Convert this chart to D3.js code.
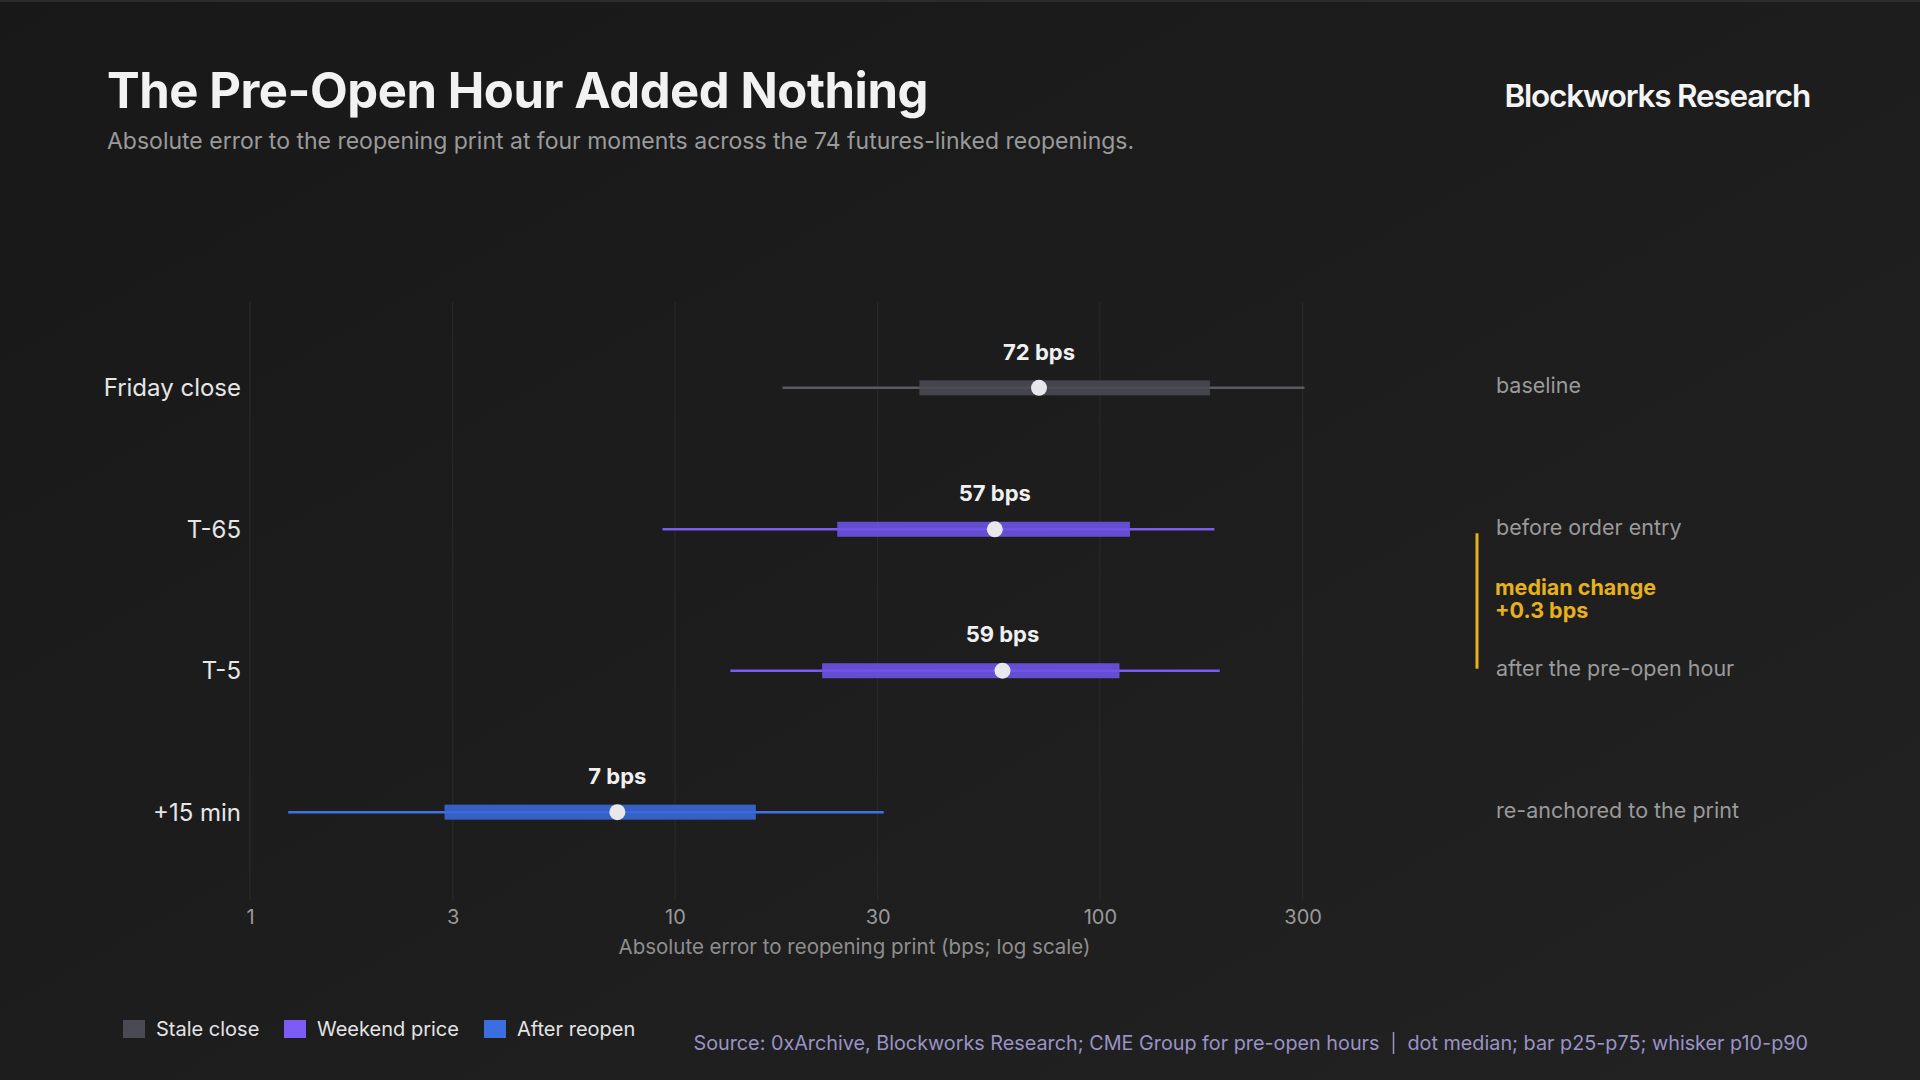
<!DOCTYPE html>
<html>
<head>
<meta charset="utf-8">
<script src="https://cdn.jsdelivr.net/npm/d3@7"></script>
<style>
	html, body { margin: 0; padding: 0; background: #1a1a1a; }
	svg { display: block; font-family: Inter, 'Noto Sans', sans-serif; }
</style>
</head>
<body>
<div id="chart"></div>
<script>
// data
const categories = ['Friday close', 'T-65', 'T-5', '+15 min'];
const groups = ['stale', 'weekend', 'weekend', 'after'];
const p10 = [17.9, 9.35, 13.5, 1.23];
const p25 = [37.6, 24.1, 22.2, 2.87];
const median = [71.9, 56.6, 59.0, 7.32];
const p75 = [181.5, 117.7, 111.2, 15.5];
const p90 = [303, 186, 191.5, 31.0];
const notes = ['baseline', 'before order entry', 'after the pre-open hour', 're-anchored to the print'];
const tickValues = [1, 3, 10, 30, 100, 300];

const legendKeys = ['stale', 'weekend', 'after'];
const legendLabels = ['Stale close', 'Weekend price', 'After reopen'];

// colors
const barColor = { stale: '#4a4a53', weekend: '#6d53e6', after: '#3a68d9' };
const whiskerColor = { stale: '#5a5a60', weekend: '#7a5cf2', after: '#4070e2' };
const swatchColor = { stale: '#4a4a55', weekend: '#7b5cf6', after: '#3d6ee0' };
const gold = '#e6b11c';

const width = 1920;
const height = 1080;

const rows = categories.map((c, i) => ({
	key: c,
	group: groups[i],
	p10: p10[i],
	p25: p25[i],
	median: median[i],
	p75: p75[i],
	p90: p90[i],
	note: notes[i]
}));

const $svg = d3.select('#chart').append('svg')
	.attr('width', width)
	.attr('height', height);

// background
const defs = $svg.append('defs');
const grad = defs.append('linearGradient')
	.attr('id', 'bg')
	.attr('x1', 0).attr('y1', 0).attr('x2', 1).attr('y2', 1);
grad.append('stop').attr('offset', '0%').attr('stop-color', '#181818');
grad.append('stop').attr('offset', '100%').attr('stop-color', '#222222');

$svg.append('rect').attr('width', width).attr('height', height).attr('fill', 'url(#bg)');
$svg.append('rect').attr('width', width).attr('height', 2).attr('fill', '#2c2c2c');

// header
$svg.append('text')
	.attr('x', 107).attr('y', 108)
	.attr('fill', '#f2f2f2')
	.style('font-size', '49px')
	.style('font-weight', 700)
	.style('letter-spacing', '-0.45px')
	.text('The Pre-Open Hour Added Nothing');

$svg.append('text')
	.attr('x', 107).attr('y', 149)
	.attr('fill', '#9a9a9a')
	.style('font-size', '23px')
	.text('Absolute error to the reopening print at four moments across the 74 futures-linked reopenings.');

$svg.append('text')
	.attr('x', 1810).attr('y', 107)
	.attr('text-anchor', 'end')
	.attr('fill', '#f4f4f4')
	.style('font-size', '31.5px')
	.style('font-weight', 600)
	.style('letter-spacing', '-1.2px')
	.text('Blockworks Research');

// scales
const x = d3.scaleLog().domain([1, 700]).range([250, 1459]);
const y = d3.scalePoint().domain(categories).range([303, 897]).padding(0.6);

const $g = $svg.append('g');

// grid
$g.append('g').attr('class', 'g-grid')
	.selectAll('line')
	.data(tickValues)
	.join('line')
	.attr('x1', d => x(d)).attr('x2', d => x(d))
	.attr('y1', 302).attr('y2', 900)
	.attr('stroke', '#2c2c2c')
	.attr('stroke-width', 1);

// x axis
const xAxis = d3.axisBottom(x)
	.tickValues(tickValues)
	.tickFormat(d3.format('d'))
	.tickSize(0)
	.tickPadding(0);

const $xAxis = $g.append('g')
	.attr('transform', 'translate(0, 910)')
	.call(xAxis);
$xAxis.select('.domain').remove();
$xAxis.selectAll('text')
	.attr('dy', '0.35em')
	.attr('y', 7)
	.attr('fill', '#9a9a9a')
	.style('font-family', 'Inter, sans-serif')
	.style('font-size', '20px');

$g.append('text')
	.attr('x', (x.range()[0] + x.range()[1]) / 2)
	.attr('y', 947)
	.attr('dy', '0.35em')
	.attr('text-anchor', 'middle')
	.attr('fill', '#8e8e8e')
	.style('font-size', '20.5px')
	.text('Absolute error to reopening print (bps; log scale)');

// y labels
$g.append('g')
	.selectAll('text')
	.data(rows)
	.join('text')
	.attr('x', 241)
	.attr('y', d => y(d.key))
	.attr('dy', '0.35em')
	.attr('text-anchor', 'end')
	.attr('fill', '#e6e6e6')
	.style('font-size', '24px')
	.text(d => d.key);

// marks
const $row = $g.append('g').attr('class', 'g-rows')
	.selectAll('g')
	.data(rows)
	.join('g')
	.attr('transform', d => `translate(0, ${y(d.key)})`);

$row.append('line')
	.attr('x1', d => x(d.p10))
	.attr('x2', d => x(d.p90))
	.attr('stroke', d => whiskerColor[d.group])
	.attr('stroke-width', 2.5);

$row.append('rect')
	.attr('x', d => x(d.p25))
	.attr('y', -7.5)
	.attr('width', d => x(d.p75) - x(d.p25))
	.attr('height', 15)
	.attr('fill', d => barColor[d.group])
	.attr('fill-opacity', 0.9);

$row.append('circle')
	.attr('cx', d => x(d.median))
	.attr('r', 8)
	.attr('fill', '#e8e8ec');

$row.append('text')
	.attr('x', d => x(d.median))
	.attr('y', -36)
	.attr('dy', '0.35em')
	.attr('text-anchor', 'middle')
	.attr('fill', '#f0f0f0')
	.style('font-size', '22px')
	.style('font-weight', 700)
	.text(d => `${Math.round(d.median)} bps`);

// right notes
$g.append('g')
	.selectAll('text')
	.data(rows)
	.join('text')
	.attr('x', 1496)
	.attr('y', d => y(d.key) - 2)
	.attr('dy', '0.35em')
	.attr('fill', '#9a9a9a')
	.style('font-size', '21.5px')
	.text(d => d.note);

// median change callout
const yA = y('T-65');
const yB = y('T-5');
$g.append('line')
	.attr('x1', 1477).attr('x2', 1477)
	.attr('y1', yA + 4).attr('y2', yB - 2)
	.attr('stroke', gold)
	.attr('stroke-width', 3);

const $call = $g.append('text')
	.attr('fill', gold)
	.style('font-size', '21.5px')
	.style('font-weight', 700);
$call.append('tspan').attr('x', 1495).attr('y', 587).attr('dy', '0.35em').text('median change');
$call.append('tspan').attr('x', 1495).attr('y', 610).attr('dy', '0.35em').text('+0.3 bps');

// legend
const legendX = [123, 284, 484];
const $legend = $svg.append('g')
	.selectAll('g')
	.data(legendKeys)
	.join('g')
	.attr('transform', (d, i) => `translate(${legendX[i]}, 1029)`);

$legend.append('rect')
	.attr('y', -9)
	.attr('width', 22)
	.attr('height', 18)
	.attr('fill', d => swatchColor[d]);

$legend.append('text')
	.attr('x', 33)
	.attr('dy', '0.35em')
	.attr('fill', '#e4e4e4')
	.style('font-size', '20px')
	.text((d, i) => legendLabels[i]);

// source
const $src = $svg.append('g');
const srcRight = $src.append('text')
	.attr('x', 1808).attr('y', 1043)
	.attr('dy', '0.35em')
	.attr('text-anchor', 'end')
	.attr('fill', '#9a93c6')
	.style('font-size', '19.8px')
	.text('dot median; bar p25-p75; whisker p10-p90');
const wRight = srcRight.node().getComputedTextLength();
const sepX = 1808 - wRight - 14;
$src.append('line')
	.attr('x1', sepX).attr('x2', sepX)
	.attr('y1', 1032).attr('y2', 1054)
	.attr('stroke', '#9a93c6')
	.attr('stroke-width', 1.5);
$src.append('text')
	.attr('x', sepX - 14).attr('y', 1043)
	.attr('dy', '0.35em')
	.attr('text-anchor', 'end')
	.attr('fill', '#9a93c6')
	.style('font-size', '19.8px')
	.text('Source: 0xArchive, Blockworks Research; CME Group for pre-open hours');
</script>
</body>
</html>
